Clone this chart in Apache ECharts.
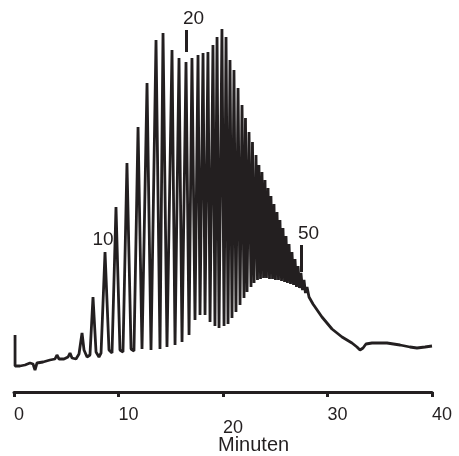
<!DOCTYPE html>
<html>
<head>
<meta charset="utf-8">
<script src="https://cdn.jsdelivr.net/npm/echarts@6/dist/echarts.min.js"></script>
<style>
  html, body { margin: 0; padding: 0; background: #fff; }
  #chart { width: 459px; height: 456px; }
</style>
</head>
<body>
<div id="chart"></div>
<script>
// Retention time in minutes, detector signal in arbitrary units.

// Injection spike and early, small oligomer peaks
const earlyTimes  = [0.10, 0.10, 0.57, 1.05, 1.53, 1.82, 2.01, 2.20, 2.78, 3.44, 3.92, 4.11, 4.31, 4.78, 5.17, 5.36, 5.55, 5.93, 6.22, 6.51, 6.70, 6.99, 7.27, 7.56, 7.85, 8.13, 8.33];
const earlySignal = [57, 26, 26, 27, 29, 28, 22, 29, 30, 32, 33, 37, 33, 33, 35, 39, 34, 33, 38, 59, 42, 35, 37, 95, 40, 35, 39];

// Resolved ladder of peaks (apex / valley alternating), from peak 10 onward
const ladderTimes  = [8.71, 9.09, 9.38, 9.76, 10.14, 10.43, 10.81, 11.20, 11.48, 11.87, 12.25, 12.73, 13.11, 13.59, 13.97, 14.26, 14.64, 15.12, 15.41, 15.79, 16.08, 16.46, 16.75, 17.03, 17.32, 17.61, 17.80, 18.09, 18.28, 18.56, 18.76, 19.04, 19.23, 19.43, 19.62, 19.90, 20.10, 20.29, 20.48, 20.67, 20.86, 21.05, 21.24, 21.44, 21.63, 21.82, 22.01, 22.15, 22.30, 22.49, 22.68, 22.82, 22.97, 23.16, 23.30, 23.44, 23.59, 23.73, 23.88, 24.02, 24.16, 24.31, 24.45, 24.59, 24.74, 24.88, 25.02, 25.17, 25.31, 25.45, 25.60, 25.74, 25.89, 26.03, 26.17, 26.32, 26.46, 26.60, 26.75, 26.89, 27.03, 27.18, 27.32, 27.46, 27.61, 27.75, 27.89, 28.04, 28.23];
const ladderSignal = [140, 42, 39, 185, 42, 40, 229, 43, 41, 265, 43, 309, 42, 352, 43, 359, 45, 342, 47, 334, 50, 330, 57, 334, 72, 337, 77, 339, 77, 340, 70, 347, 66, 355, 64, 363, 66, 355, 68, 332, 74, 322, 80, 304, 87, 287, 94, 274, 100, 260, 105, 250, 109, 237, 112, 227, 113, 220, 114, 212, 114, 204, 113, 196, 113, 188, 112, 180, 112, 172, 111, 164, 110, 156, 109, 148, 108, 140, 107, 133, 105, 126, 104, 119, 102, 112, 99, 105, 95];

// Baseline tail after elution
const tailTimes  = [28.61, 29.47, 30.43, 31.39, 32.34, 32.82, 33.11, 33.40, 33.68, 34.26, 35.69, 36.94, 37.89, 38.56, 39.33, 40.00];
const tailSignal = [88, 75, 63, 55, 49, 45, 42, 44, 48, 49, 49, 47, 45, 44, 45, 46];

// Peak-number annotations: ticks over peaks 20 and 50, plain label over peak 10
const tickLabels  = ['20', '50'];
const tickTimes   = [16.51, 27.51];
const tickTop     = [362, 147];
const tickBottom  = [340, 120];
const peakLabel   = '10';
const peakLabelAt = [8.71, 140];

const xTicks = [0, 10, 20, 30, 40];

const INK = '#231f20';
const FONT = '"Liberation Sans", Arial, Helvetica, sans-serif';

const times = earlyTimes.concat(ladderTimes, tailTimes);
const signal = earlySignal.concat(ladderSignal, tailSignal);
const trace = times.map((t, i) => [t, signal[i]]);

const chart = echarts.init(document.getElementById('chart'), null, { renderer: 'canvas' });

chart.setOption({
  animation: false,
  backgroundColor: '#fff',
  grid: { left: 14, right: 27, top: 20, bottom: 64, containLabel: false },
  xAxis: {
    type: 'value',
    min: xTicks[0],
    max: xTicks[xTicks.length - 1],
    interval: 10,
    axisLine: { show: true, lineStyle: { color: INK, width: 3, cap: 'round' } },
    axisTick: { show: true, inside: false, length: 5, lineStyle: { color: INK, width: 3 } },
    splitLine: { show: false },
    axisLabel: {
      show: true,
      margin: 14,
      align: 'left',
      color: INK,
      fontFamily: FONT,
      fontSize: 18,
      formatter: v => (v === 20 ? '{low|20}' : String(v)),
      rich: {
        low: { fontFamily: FONT, fontSize: 18, color: INK, padding: [13, 0, 0, 0] }
      }
    }
  },
  yAxis: { type: 'value', min: 0, max: 372, show: false },
  graphic: [{
    type: 'text',
    left: 218,
    top: 435,
    style: { text: 'Minuten', fill: INK, font: '20px ' + FONT }
  }],
  series: [{
    type: 'line',
    data: trace,
    showSymbol: false,
    symbol: 'none',
    clip: false,
    lineStyle: { color: INK, width: 2.8 },
    markLine: {
      silent: true,
      symbol: ['none', 'none'],
      label: { show: false },
      lineStyle: { color: INK, width: 3, type: 'solid' },
      data: tickTimes.map((t, i) => [{ coord: [t, tickTop[i]] }, { coord: [t, tickBottom[i]] }])
    },
    markPoint: {
      silent: true,
      symbol: 'circle',
      symbolSize: 0,
      label: { show: true, position: 'inside', color: INK, fontFamily: FONT, fontSize: 19, formatter: '{b}' },
      data: [
        { name: peakLabel, coord: peakLabelAt, label: { offset: [-2, -12] } }
      ].concat(tickTimes.map((t, i) => ({ name: tickLabels[i], coord: [t, tickTop[i]], label: { offset: [7, -11] } })))
    }
  }]
});
</script>
</body>
</html>
